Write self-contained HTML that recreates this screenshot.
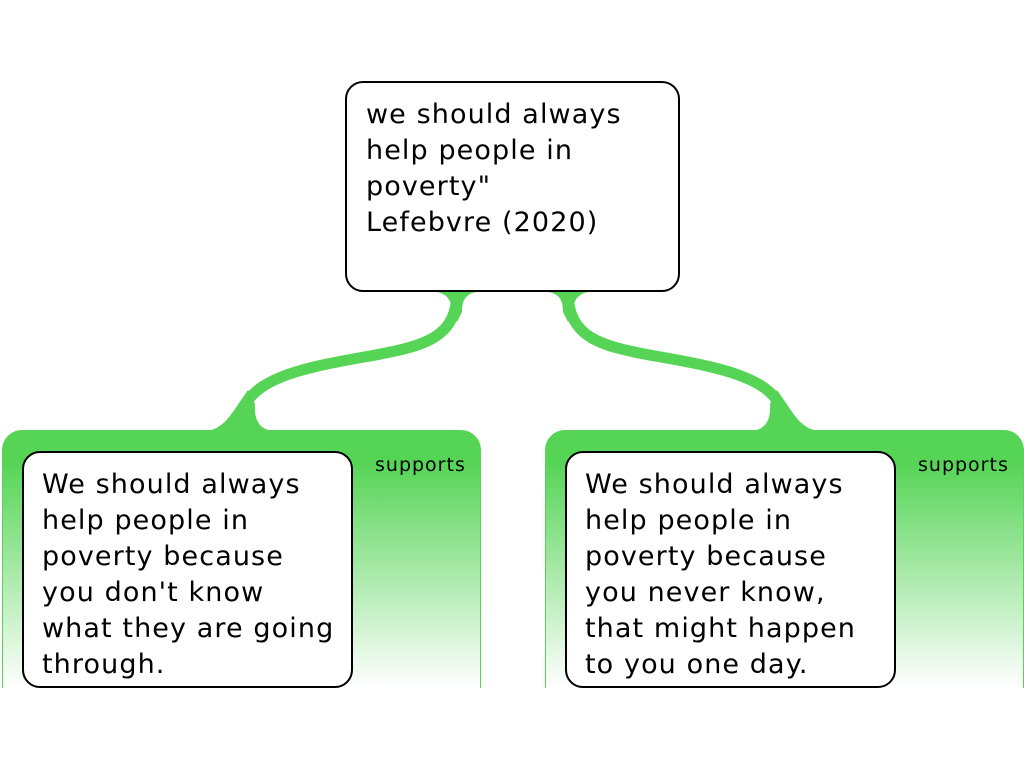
<!DOCTYPE html>
<html><head><meta charset="utf-8"><style>
body{margin:0;width:1024px;height:768px;background:#fff;overflow:hidden;position:relative;font-family:"DejaVu Sans","Liberation Sans",sans-serif}
.cont{position:absolute;top:430px;width:479px;height:258px;border:1px solid #55d455;border-bottom:none;border-radius:20px 20px 0 0;background:linear-gradient(#55d455 0%,#55d455 12%,#fff 100%);box-sizing:border-box}
.box{position:absolute;background:#fff;border:2px solid #000;border-radius:18px;box-sizing:border-box;font-size:27px;letter-spacing:1.1px;line-height:36px;color:#000;white-space:nowrap}
.sup{position:absolute;font-size:19px;letter-spacing:1px;color:#000}
</style></head><body>
<svg width="1024" height="768" style="position:absolute;left:0;top:0">
<defs><g id="rb">
<path d="M568,291 C568,338 600,346 655,356 C725,368 765,378 780,405 L785,420" fill="none" stroke="#55d455" stroke-width="11"/>
<path d="M538,291 C558,291 563,298 563,312 L568,322 L573,312 C573,298 580,291 598,291 Z" fill="#55d455"/>
<path d="M750,431 C766,430 771,420 770,404 L777,390 L786,403 C797,420 805,430 820,431 Z" fill="#55d455"/>
</g></defs>
<use href="#rb"/>
<use href="#rb" transform="translate(1025,0) scale(-1,1)"/>
</svg>
<div class="cont" style="left:2px"></div>
<div class="cont" style="left:545px"></div>
<div class="box" style="left:345px;top:81px;width:335px;height:211px;padding:14px 0 0 19px">we should always<br>help people in<br>poverty"<br>Lefebvre (2020)</div>
<div class="box" style="left:22px;top:451px;width:331px;height:237px;padding:14px 0 0 18px">We should always<br>help people in<br>poverty because<br>you don't know<br>what they are going<br>through.</div>
<div class="box" style="left:565px;top:451px;width:331px;height:237px;padding:14px 0 0 18px">We should always<br>help people in<br>poverty because<br>you never know,<br>that might happen<br>to you one day.</div>
<div class="sup" style="left:375px;top:454px">supports</div>
<div class="sup" style="left:918px;top:454px">supports</div>
</body></html>
